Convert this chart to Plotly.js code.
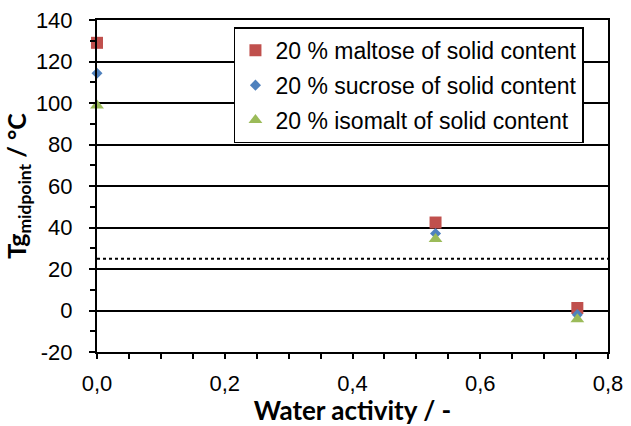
<!DOCTYPE html>
<html>
<head>
<meta charset="utf-8">
<script src="https://cdn.plot.ly/plotly-3.0.1.min.js"></script>
<style>
  html, body { margin: 0; padding: 0; background: #fff; }
  #chart { width: 631px; height: 426px; }
</style>
</head>
<body>
<div id="chart"></div>
<script>
// Glass transition temperature (midpoint) versus water activity
const waterActivity = [0.0, 0.53, 0.752];
const tgMaltose = [129.0, 42.4, 1.2];
const tgSucrose = [114.3, 37.1, -2.0];
const tgIsomalt = [98.8, 34.4, -4.2];

const seriesNames = [
  '20 % maltose of solid content',
  '20 % sucrose of solid content',
  '20 % isomalt of solid content'
];

// Storage temperature reference line (°C)
const referenceTemp = 25;

const xTickVals = [0, 0.2, 0.4, 0.6, 0.8];
const xTickText = ['0,0', '0,2', '0,4', '0,6', '0,8'];
const yTickVals = [-20, 0, 20, 40, 60, 80, 100, 120, 140];
const yTickText = ['-20', '0', '20', '40', '60', '80', '100', '120', '140'];

const traces = [
  {
    x: waterActivity, y: tgMaltose, name: seriesNames[0],
    type: 'scatter', mode: 'markers', legendgroup: 'a', cliponaxis: false,
    marker: { symbol: 'square', size: 12, color: '#C0504D' }
  },
  {
    x: waterActivity, y: tgSucrose, name: seriesNames[1],
    type: 'scatter', mode: 'markers', legendgroup: 'b', cliponaxis: false,
    marker: { symbol: 'diamond', size: 8.5, color: '#4F81BD' }
  },
  {
    x: waterActivity, y: tgIsomalt, name: seriesNames[2],
    type: 'scatter', mode: 'markers', legendgroup: 'c', cliponaxis: false,
    marker: { symbol: 'triangle-up', size: 12, color: '#9BBB59' }
  }
];

const layout = {
  width: 631,
  height: 426,
  margin: { l: 97, r: 23, t: 20, b: 74 },
  paper_bgcolor: '#ffffff',
  plot_bgcolor: '#ffffff',
  font: { family: '"Liberation Sans", Arial, sans-serif', size: 22, color: '#000' },
  showlegend: true,
  legend: {
    x: 0.268, y: 0.978, xanchor: 'left', yanchor: 'top',
    bgcolor: '#ffffff', bordercolor: '#000', borderwidth: 1.5,
    font: { family: '"Liberation Sans", Arial, sans-serif', size: 23, color: '#000' },
    traceorder: 'grouped', tracegroupgap: 2
  },
  xaxis: {
    range: [0, 0.8],
    tickvals: xTickVals, ticktext: xTickText,
    ticks: 'outside', ticklen: 5, tickwidth: 2, tickcolor: '#000',
    showline: true, linecolor: '#000', linewidth: 2, mirror: true,
    showgrid: false, zeroline: false,
    ticklabelstandoff: 6,
    minor: { dtick: 0.05, tick0: 0, ticks: 'outside', ticklen: 5, tickwidth: 2, tickcolor: '#000', showgrid: false },
    title: {
      text: 'Water activity / -',
      font: { family: 'Lato, sans-serif', size: 26, color: '#000', weight: 'bold' },
      standoff: 6
    }
  },
  yaxis: {
    range: [-20, 140],
    tickvals: yTickVals, ticktext: yTickText,
    ticks: 'outside', ticklen: 6, tickwidth: 2, tickcolor: '#000',
    showline: true, linecolor: '#000', linewidth: 2, mirror: true,
    showgrid: true, gridcolor: '#000', gridwidth: 2, zeroline: false,
    ticklabelstandoff: 12,
    minor: { dtick: 10, tick0: 0, ticks: 'outside', ticklen: 5, tickwidth: 2, tickcolor: '#000', showgrid: false },
    title: {
      text: 'Tg<sub>midpoint</sub> / °C',
      font: { family: 'Lato, sans-serif', size: 25, color: '#000', weight: 'bold' },
      standoff: 2
    }
  },
  shapes: [
    {
      type: 'line', xref: 'paper', x0: 0, x1: 1, yref: 'y',
      y0: referenceTemp, y1: referenceTemp,
      line: { color: '#000', width: 2, dash: 'dot' }
    }
  ]
};

Plotly.newPlot('chart', traces, layout, { displayModeBar: false, staticPlot: true });
</script>
</body>
</html>
